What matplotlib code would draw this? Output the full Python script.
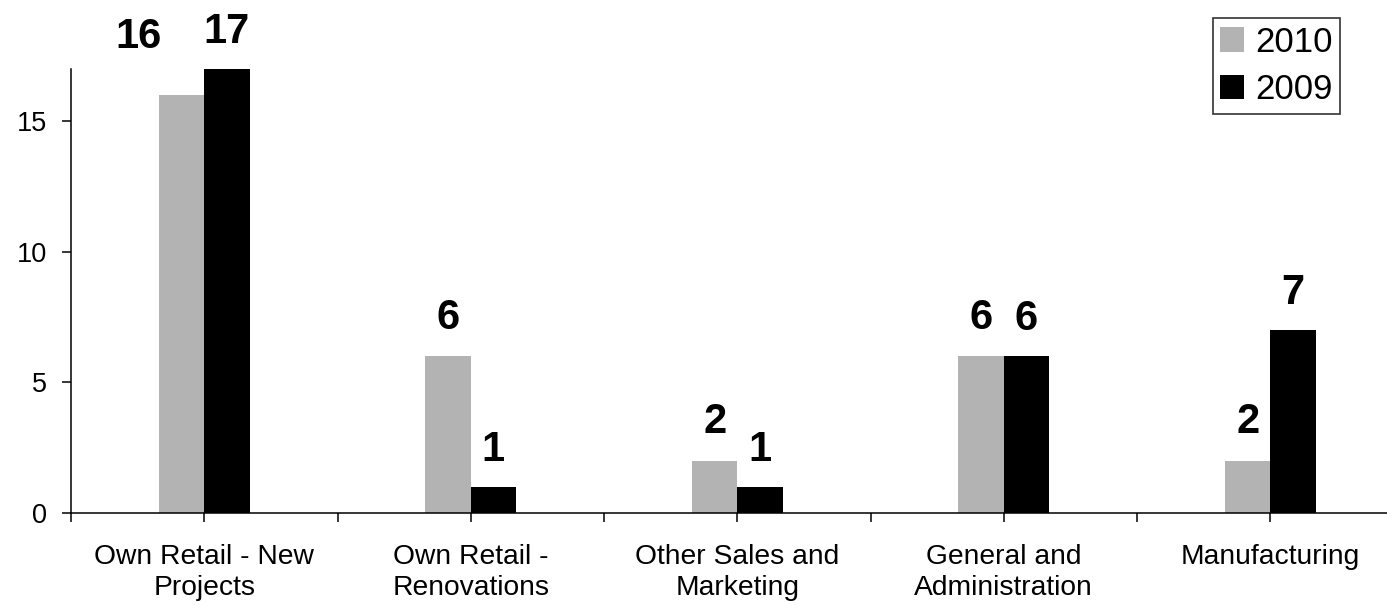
import numpy as np
import matplotlib.pyplot as plt
from matplotlib.ticker import FixedLocator

# ----------------------------
# Data
# ----------------------------

categories = [
    "Own Retail - New\nProjects",
    "Own Retail -\nRenovations",
    "Other Sales and\nMarketing",
    "General and\nAdministration",
    "Manufacturing",
]
series_names = ["2010", "2009"]
values_2010 = [16, 6, 2, 6, 2]
values_2009 = [17, 1, 1, 6, 7]

# ----------------------------
# Figure
# ----------------------------

plt.rcParams["font.family"] = ["Liberation Sans", "DejaVu Sans"]

W, H = 1387, 609
fig = plt.figure(figsize=(W / 100, H / 100), dpi=100)

cat_px = 266.5
left_px, bottom_px, top_px = 71, 513, 68.7
ax = fig.add_axes([left_px / W, 1 - bottom_px / H,
                   5 * cat_px / W, (bottom_px - top_px) / H])

x = np.arange(len(categories))
bw = 0.17
gray = "#b3b3b3"

ax.bar(x - bw / 2, values_2010, bw, color=gray, label=series_names[0])
ax.bar(x + bw / 2, values_2009, bw, color="black", label=series_names[1])

ax.set_xlim(-0.5, len(categories) - 0.5)
ax.set_ylim(0, 17)

# value labels above the bars
label_kw = dict(ha="center", va="baseline", fontsize=30, fontweight="bold")
for i, (a, b) in enumerate(zip(values_2010, values_2009)):
    xa, ya = x[i] - bw / 2, a + 1.05
    if i == 0:
        # first label moved up beside the taller bar
        xa, ya = x[i] - bw / 2 - 0.16, 17.8
    ax.text(xa, ya, str(a), clip_on=False, **label_kw)
    ax.text(x[i] + bw / 2, b + 1.0, str(b), clip_on=False, **label_kw)

# axes styling
for side in ("top", "right"):
    ax.spines[side].set_visible(False)
for side in ("left", "bottom"):
    ax.spines[side].set_linewidth(1.1)

ax.set_yticks([0, 5, 10, 15])
ax.tick_params(axis="y", direction="out", length=6.5, width=1.1,
               labelsize=19.5, pad=11)
ax.set_xticks(x)
ax.set_xticklabels(categories, linespacing=1.25)
ax.xaxis.set_minor_locator(FixedLocator(np.arange(-0.5, len(categories), 1.0)))
ax.tick_params(axis="x", which="both", direction="out", length=6.5, width=1.1)
ax.tick_params(axis="x", which="major", labelsize=20.3, pad=16)

leg = ax.legend(loc="upper right", bbox_to_anchor=(1340 / W, 1 - 18 / H),
                bbox_transform=fig.transFigure, fontsize=25, frameon=True,
                fancybox=False, edgecolor="black", handlelength=0.7,
                handleheight=0.7, handletextpad=0.3, borderpad=0.22,
                labelspacing=0.42, borderaxespad=0)
leg.get_frame().set_linewidth(1.2)

fig.savefig("out.png", dpi=100)
